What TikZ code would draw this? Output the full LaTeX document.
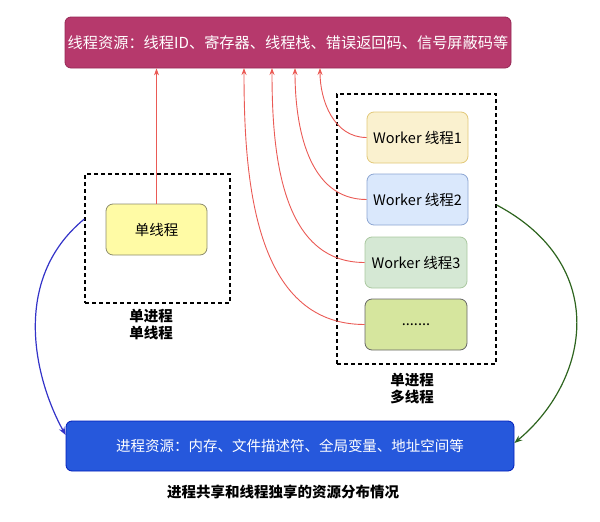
\documentclass[tikz,border=0pt]{standalone}
\usepackage{fontspec}
\setmainfont{Noto Sans CJK SC}
\usetikzlibrary{arrows.meta}
\definecolor{topfill}{RGB}{182,57,108}
\definecolor{topdraw}{RGB}{150,40,85}
\definecolor{botfill}{RGB}{38,88,220}
\definecolor{botdraw}{RGB}{0,29,188}
\definecolor{redline}{RGB}{234,90,85}
\definecolor{blueline}{RGB}{51,51,200}
\definecolor{greenline}{RGB}{45,100,30}
\begin{document}
\begin{tikzpicture}[x=1pt,y=-1pt,
  font=\fontsize{14.5pt}{17pt}\selectfont,
  box/.style={draw, rounded corners=7pt, line width=0.8pt, align=center, inner sep=0pt},
  dbox/.style={draw=black, dash pattern=on 4pt off 3pt, line width=1.3pt, inner sep=0pt},
  redarrow/.style={draw=redline, line width=0.9pt, -{Stealth[length=7pt,width=5pt]}},
  bluearrow/.style={draw=blueline, line width=1.2pt, -{Stealth[length=8pt,width=6pt]}},
  greenarrow/.style={draw=greenline, line width=1.2pt, -{Stealth[length=8pt,width=6pt]}},
  lbl/.style={font=\fontsize{14.5pt}{17pt}\selectfont\bfseries, align=center}
]
\useasboundingbox (0,0) rectangle (600,522);

% top box
\node[box, rounded corners=6pt, fill=topfill, draw=topdraw, text=white,
  minimum width=446pt, minimum height=51pt, font=\fontsize{15.2pt}{18pt}\selectfont] (top) at (288,42.5)
  {线程资源：线程ID、寄存器、线程栈、错误返回码、信号屏蔽码等};

% single process single thread
\node[dbox, minimum width=145pt, minimum height=129pt] (sbox) at (157.5,238.5) {};
\node[box, fill={rgb,255:red,255;green,251;blue,165}, draw={rgb,255:red,140;green,140;blue,110},
  minimum width=101pt, minimum height=51pt] (single) at (156.5,229.5) {单线程};
\node[lbl] (slbl) at (151,325) {单进程\\单线程};

% single process multi thread
\node[dbox, minimum width=159pt, minimum height=270pt] (mbox) at (416.5,229) {};
\node[box, fill={rgb,255:red,250;green,241;blue,207}, draw={rgb,255:red,226;green,200;blue,120},
  minimum width=101pt, minimum height=51pt] (w1) at (417.5,137.5) {Worker 线程1};
\node[box, fill={rgb,255:red,218;green,232;blue,252}, draw={rgb,255:red,140;green,165;blue,210},
  minimum width=101pt, minimum height=51pt] (w2) at (417.5,199.5) {Worker 线程2};
\node[box, fill={rgb,255:red,213;green,232;blue,212}, draw={rgb,255:red,170;green,200;blue,160},
  minimum width=102pt, minimum height=51pt] (w3) at (416,262.5) {Worker 线程3};
\node[box, fill={rgb,255:red,214;green,230;blue,158}, draw={rgb,255:red,102;green,102;blue,102},
  minimum width=102pt, minimum height=51pt] (w4) at (416,324.5) {.......};
\node[lbl] (mlbl) at (412,389) {单进程\\多线程};

% bottom box
\node[box, rounded corners=6pt, fill=botfill, draw=botdraw, text=white,
  minimum width=448pt, minimum height=50pt] (bot) at (290,446)
  {进程资源：内存、文件描述符、全局变量、地址空间等};

\node[lbl] (cap) at (283,492) {进程共享和线程独享的资源分布情况};

% red arrows
\coordinate (t1) at (320,68);
\coordinate (t2) at (295,68);
\coordinate (t3) at (272,68);
\coordinate (t4) at (244,68);
\draw[redarrow] (single.north) -- (single.north |- top.south);
\draw[redarrow] (w1.west) to[out=180,in=-90] (t1);
\draw[redarrow] (w2.west) to[out=180,in=-90] (t2);
\draw[redarrow] (w3.west) to[out=180,in=-90] (t3);
\draw[redarrow] (w4.west) to[out=180,in=-90] (t4);

% blue and green
\draw[bluearrow] ([yshift=19.5pt]sbox.west) .. controls (10,280) and (35,380) .. ([yshift=11pt]bot.west);
\draw[greenarrow] ([yshift=24pt]mbox.east) .. controls (610,265) and (590,380) .. ([yshift=3pt]bot.east);
\end{tikzpicture}
\end{document}
